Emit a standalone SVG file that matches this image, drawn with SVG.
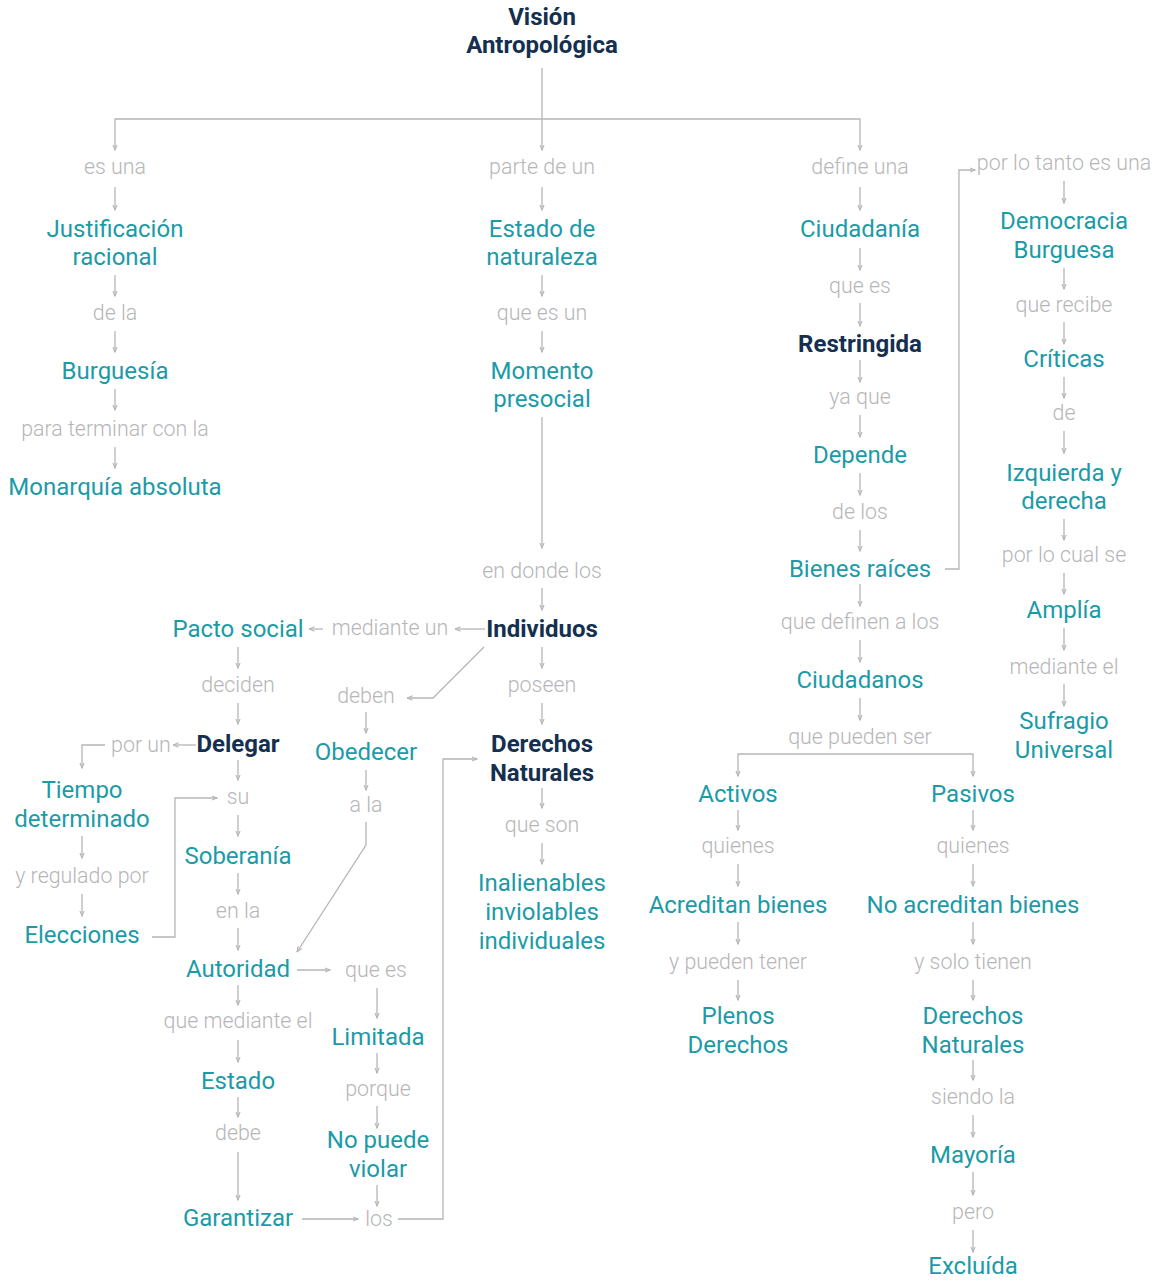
<svg xmlns="http://www.w3.org/2000/svg" width="1165" height="1280" viewBox="0 0 1165 1280">
<style>
text{font-family:Roboto,"Liberation Sans",sans-serif;text-anchor:middle}
.n{font-size:24px;fill:#1b9ba7}
.d{font-size:24px;fill:#15304f;font-weight:700}
.l{font-size:21.4px;fill:#b6b6b8;font-weight:300}
.c path{fill:none;stroke:#b5b5b9;stroke-width:1.3;marker-end:url(#a)}
</style>
<defs>
<marker id="a" viewBox="0 0 6 6" refX="5.5" refY="3" markerWidth="6" markerHeight="6" markerUnits="userSpaceOnUse" orient="auto">
<path d="M0,0.8 L5.5,3 L0,5.2" fill="none" stroke="#b5b5b9" stroke-width="1.1"/>
</marker>
</defs>
<rect width="1165" height="1280" fill="#fff"/>
<g class="c">
<path d="M542,68 V150"/>
<path d="M542,119 H115 V150"/>
<path d="M542,119 H860 V150"/>
<path d="M115,187 V210"/><path d="M115,275 V296"/><path d="M115,331 V352"/><path d="M115,389 V410"/><path d="M115,447 V468"/>
<path d="M542,187 V210"/><path d="M542,275 V296"/><path d="M542,331 V352"/><path d="M542,417 V548"/><path d="M542,588 V610"/><path d="M542,647 V668"/><path d="M542,703 V724"/><path d="M542,788 V808"/><path d="M542,843 V864"/>
<path d="M860,187 V210"/><path d="M860,248 V270"/><path d="M860,303 V326"/><path d="M860,360 V382"/><path d="M860,415 V437"/><path d="M860,473 V495"/><path d="M860,530 V551"/><path d="M860,584 V606"/><path d="M860,640 V662"/><path d="M860,698 V720"/>
<path d="M856,754 H738 V776"/><path d="M856,754 H973 V776"/>
<path d="M738,810 V830"/><path d="M738,864 V886"/><path d="M738,922 V944"/><path d="M738,980 V1000"/>
<path d="M973,810 V830"/><path d="M973,864 V886"/><path d="M973,922 V944"/><path d="M973,980 V1000"/><path d="M973,1060 V1080"/><path d="M973,1115 V1137"/><path d="M973,1172 V1195"/><path d="M973,1230 V1252"/>
<path d="M1064,181 V203"/><path d="M1064,268 V289"/><path d="M1064,322 V344"/><path d="M1064,377 V398"/><path d="M1064,431 V453"/><path d="M1064,519 V540"/><path d="M1064,573 V594"/><path d="M1064,628 V650"/><path d="M1064,684 V706"/>
<path d="M945,569 H959 V170 H975"/>
<path d="M238,647 V668"/><path d="M238,703 V724"/><path d="M238,760 V780"/><path d="M238,815 V836"/><path d="M238,873 V894"/><path d="M238,928 V950"/><path d="M238,985 V1005"/><path d="M238,1040 V1062"/><path d="M238,1097 V1117"/><path d="M238,1152 V1200"/>
<path d="M105,745 H82 V768"/><path d="M82,836 V858"/><path d="M82,894 V916"/>
<path d="M152,937 H175 V798 H217"/>
<path d="M485,629 H455"/><path d="M323,629 H309"/>
<path d="M196,745 H173"/>
<path d="M484,647 L433,698 H407"/>
<path d="M366,712 V733"/><path d="M366,770 V790"/>
<path d="M366,822 V845 L297,952"/>
<path d="M297,970 H330"/>
<path d="M377,988 V1018"/><path d="M377,1053 V1073"/><path d="M377,1106 V1128"/><path d="M377,1185 V1206"/>
<path d="M302,1219 H358"/>
<path d="M398,1219 H443 V759 H477"/>
</g>
<g id="title"><text class="d" x="542" y="25">Visión</text><text class="d" x="542" y="53">Antropológica</text></g>
<g id="l-esuna"><text class="l" x="115" y="174">es una</text></g>
<g id="justificacion"><text class="n" x="115" y="237">Justificación</text><text class="n" x="115" y="265">racional</text></g>
<g id="l-dela"><text class="l" x="115" y="320">de la</text></g>
<g id="burguesia"><text class="n" x="115" y="379">Burguesía</text></g>
<g id="l-paraterminar"><text class="l" x="115" y="436">para terminar con la</text></g>
<g id="monarquia"><text class="n" x="115" y="495">Monarquía absoluta</text></g>
<g id="l-partedeun"><text class="l" x="542" y="174">parte de un</text></g>
<g id="estadonat"><text class="n" x="542" y="237">Estado de</text><text class="n" x="542" y="265">naturaleza</text></g>
<g id="l-queesun"><text class="l" x="542" y="320">que es un</text></g>
<g id="momento"><text class="n" x="542" y="379">Momento</text><text class="n" x="542" y="407">presocial</text></g>
<g id="l-endonde"><text class="l" x="542" y="578">en donde los</text></g>
<g id="individuos"><text class="d" x="542" y="637">Individuos</text></g>
<g id="l-poseen"><text class="l" x="542" y="692">poseen</text></g>
<g id="derechosnat"><text class="d" x="542" y="752">Derechos</text><text class="d" x="542" y="781">Naturales</text></g>
<g id="l-queson"><text class="l" x="542" y="832">que son</text></g>
<g id="inalienables"><text class="n" x="542" y="891">Inalienables</text><text class="n" x="542" y="920">inviolables</text><text class="n" x="542" y="949">individuales</text></g>
<g id="l-defineuna"><text class="l" x="860" y="174">define una</text></g>
<g id="ciudadania"><text class="n" x="860" y="237">Ciudadanía</text></g>
<g id="l-quees"><text class="l" x="860" y="293">que es</text></g>
<g id="restringida"><text class="d" x="860" y="352">Restringida</text></g>
<g id="l-yaque"><text class="l" x="860" y="404">ya que</text></g>
<g id="depende"><text class="n" x="860" y="463">Depende</text></g>
<g id="l-delos"><text class="l" x="860" y="519">de los</text></g>
<g id="bienes"><text class="n" x="860" y="577">Bienes raíces</text></g>
<g id="l-quedefinen"><text class="l" x="860" y="629">que definen a los</text></g>
<g id="ciudadanos"><text class="n" x="860" y="688">Ciudadanos</text></g>
<g id="l-quepueden"><text class="l" x="860" y="744">que pueden ser</text></g>
<g id="activos"><text class="n" x="738" y="802">Activos</text></g>
<g id="l-quienes1"><text class="l" x="738" y="853">quienes</text></g>
<g id="acreditan"><text class="n" x="738" y="913">Acreditan bienes</text></g>
<g id="l-ypueden"><text class="l" x="738" y="969">y pueden tener</text></g>
<g id="plenos"><text class="n" x="738" y="1024">Plenos</text><text class="n" x="738" y="1053">Derechos</text></g>
<g id="pasivos"><text class="n" x="973" y="802">Pasivos</text></g>
<g id="l-quienes2"><text class="l" x="973" y="853">quienes</text></g>
<g id="noacreditan"><text class="n" x="973" y="913">No acreditan bienes</text></g>
<g id="l-ysolo"><text class="l" x="973" y="969">y solo tienen</text></g>
<g id="derechosnat2"><text class="n" x="973" y="1024">Derechos</text><text class="n" x="973" y="1053">Naturales</text></g>
<g id="l-siendo"><text class="l" x="973" y="1104">siendo la</text></g>
<g id="mayoria"><text class="n" x="973" y="1163">Mayoría</text></g>
<g id="l-pero"><text class="l" x="973" y="1219">pero</text></g>
<g id="excluida"><text class="n" x="973" y="1274">Excluída</text></g>
<g id="l-porlotanto"><text class="l" x="1064" y="170">por lo tanto es una</text></g>
<g id="democracia"><text class="n" x="1064" y="229">Democracia</text><text class="n" x="1064" y="258">Burguesa</text></g>
<g id="l-querecibe"><text class="l" x="1064" y="312">que recibe</text></g>
<g id="criticas"><text class="n" x="1064" y="367">Críticas</text></g>
<g id="l-de"><text class="l" x="1064" y="420">de</text></g>
<g id="izquierda"><text class="n" x="1064" y="481">Izquierda y</text><text class="n" x="1064" y="509">derecha</text></g>
<g id="l-porlocual"><text class="l" x="1064" y="562">por lo cual se</text></g>
<g id="amplia"><text class="n" x="1064" y="618">Amplía</text></g>
<g id="l-mediantel"><text class="l" x="1064" y="674">mediante el</text></g>
<g id="sufragio"><text class="n" x="1064" y="729">Sufragio</text><text class="n" x="1064" y="758">Universal</text></g>
<g id="l-medianteun"><text class="l" x="390" y="635">mediante un</text></g>
<g id="pacto"><text class="n" x="238" y="637">Pacto social</text></g>
<g id="l-deciden"><text class="l" x="238" y="692">deciden</text></g>
<g id="delegar"><text class="d" x="238" y="752">Delegar</text></g>
<g id="l-porun"><text class="l" x="141" y="752">por un</text></g>
<g id="tiempo"><text class="n" x="82" y="798">Tiempo</text><text class="n" x="82" y="827">determinado</text></g>
<g id="l-yregulado"><text class="l" x="82" y="883">y regulado por</text></g>
<g id="elecciones"><text class="n" x="82" y="943">Elecciones</text></g>
<g id="l-su"><text class="l" x="238" y="804">su</text></g>
<g id="soberania"><text class="n" x="238" y="864">Soberanía</text></g>
<g id="l-enla"><text class="l" x="238" y="918">en la</text></g>
<g id="autoridad"><text class="n" x="238" y="977">Autoridad</text></g>
<g id="l-quemediante"><text class="l" x="238" y="1028">que mediante el</text></g>
<g id="estado"><text class="n" x="238" y="1089">Estado</text></g>
<g id="l-debe"><text class="l" x="238" y="1140">debe</text></g>
<g id="garantizar"><text class="n" x="238" y="1226">Garantizar</text></g>
<g id="l-deben"><text class="l" x="366" y="703">deben</text></g>
<g id="obedecer"><text class="n" x="366" y="760">Obedecer</text></g>
<g id="l-ala"><text class="l" x="366" y="812">a la</text></g>
<g id="l-quees2"><text class="l" x="376" y="977">que es</text></g>
<g id="limitada"><text class="n" x="378" y="1045">Limitada</text></g>
<g id="l-porque"><text class="l" x="378" y="1096">porque</text></g>
<g id="nopuede"><text class="n" x="378" y="1148">No puede</text><text class="n" x="378" y="1177">violar</text></g>
<g id="l-los"><text class="l" x="379" y="1226">los</text></g>
</svg>
